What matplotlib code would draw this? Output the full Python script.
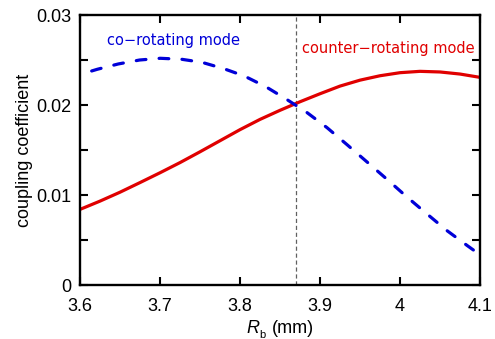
import matplotlib
matplotlib.use("Agg")
import matplotlib.pyplot as plt
from matplotlib.ticker import FixedLocator, MultipleLocator

plt.rcParams['font.family'] = ['Liberation Sans', 'DejaVu Sans']
plt.rcParams['lines.scale_dashes'] = False

# data
x_counter = [3.600, 3.625, 3.650, 3.675, 3.700, 3.725, 3.750, 3.775, 3.800, 3.825,
             3.850, 3.875, 3.900, 3.925, 3.950, 3.975, 4.000, 4.025, 4.050, 4.075, 4.100]
y_counter = [0.00840, 0.00932, 0.01031, 0.01138, 0.01247, 0.01360, 0.01480, 0.01603,
             0.01726, 0.01840, 0.01941, 0.02036, 0.02125, 0.02210, 0.02276, 0.02325,
             0.02359, 0.02374, 0.02367, 0.02344, 0.02307]

x_co = [3.6146, 3.6217, 3.6479, 3.6746, 3.7004, 3.7271, 3.7525, 3.7796, 3.8054,
        3.8321, 3.8575, 3.8833, 3.9088, 3.9333, 3.9588, 3.9838, 4.0083, 4.0338,
        4.0583, 4.0842, 4.0917]
y_co = [0.02378, 0.02397, 0.02456, 0.02500, 0.02519, 0.02508, 0.02474, 0.02404,
        0.02322, 0.02204, 0.02067, 0.01919, 0.01748, 0.01563, 0.01367, 0.01174,
        0.00981, 0.00789, 0.00607, 0.00437, 0.00389]

x_cross = 3.87
xticks = [3.6, 3.7, 3.8, 3.9, 4.0, 4.1]
xticklabels = ['3.6', '3.7', '3.8', '3.9', '4', '4.1']
yticks = [0, 0.01, 0.02, 0.03]
yticklabels = ['0', '0.01', '0.02', '0.03']

W, H = 495, 339
fig = plt.figure(figsize=(W / 100, H / 100), dpi=100)
ax = fig.add_axes([80 / W, 1 - 285 / H, 400 / W, 270 / H])

blue = '#0000d8'
red = '#e00000'

ax.axvline(x_cross, color='#606060', lw=0.9, dashes=(3.0, 2.0), zorder=1)
ax.plot(x_co, y_co, color=blue, lw=2.3, dashes=(7.0, 9.5),
        dash_capstyle='round', solid_joinstyle='round', zorder=3)
ax.plot(x_counter, y_counter, color=red, lw=2.3, solid_joinstyle='round', zorder=2)

ax.set_xlim(3.6, 4.1)
ax.set_ylim(0, 0.03)
ax.xaxis.set_major_locator(FixedLocator(xticks))
ax.set_xticklabels(xticklabels)
ax.yaxis.set_major_locator(FixedLocator(yticks))
ax.set_yticklabels(yticklabels)
ax.yaxis.set_minor_locator(MultipleLocator(0.005))

for s in ax.spines.values():
    s.set_linewidth(1.7)
ax.tick_params(which='both', direction='in', top=True, right=True,
               length=6.0, width=1.5, labelsize=13)
ax.tick_params(axis='x', which='major', pad=9.5)
ax.tick_params(axis='y', which='major', pad=6.5)

ax.set_ylabel('coupling coefficient', fontsize=13)
ax.yaxis.set_label_coords(-47 / 400, 0.5)

# x label pieces
fig.text(246.5 / W, 1 - 333 / H, 'R', fontsize=13, style='italic',
         ha='left', va='baseline')
fig.text(259.5 / W, 1 - 338.5 / H, 'b', fontsize=8, ha='left', va='baseline')
fig.text(271.5 / W, 1 - 333 / H, '(mm)', fontsize=13, ha='left', va='baseline')

fig.text(107 / W, 1 - 40 / H, 'co\u2212rotating mode', color=blue, fontsize=10.5,
         family=['DejaVu Sans'], ha='left', va='center')
fig.text(302 / W, 1 - 49 / H, 'counter\u2212rotating mode', color=red, fontsize=10.5,
         family=['DejaVu Sans'], ha='left', va='center')

fig.savefig('out.png', dpi=100)
